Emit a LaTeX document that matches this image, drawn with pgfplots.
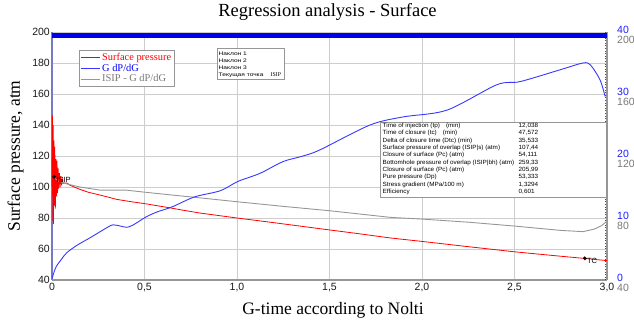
\documentclass[border=0pt]{standalone}
\usepackage{pgfplots}
\pgfplotsset{compat=1.18}
\usepackage{fontspec}
\setmainfont{Liberation Serif}
\setsansfont{Liberation Sans}
\newfontfamily\infofont[FakeStretch=1.05]{Liberation Sans}
\newfontfamily\boxfont[FakeStretch=1.27]{Liberation Sans}
\definecolor{gridc}{RGB}{205,205,205}
\definecolor{lblue}{RGB}{55,55,255}
\definecolor{lred}{RGB}{255,0,0}
\definecolor{bbar}{RGB}{0,0,235}
\definecolor{greyl}{RGB}{150,150,150}
\definecolor{ticktxt}{RGB}{25,25,25}
\definecolor{axblue}{RGB}{120,120,200}
\definecolor{rlab}{RGB}{30,30,255}
\definecolor{glab}{RGB}{120,120,120}
\newcommand{\tinyf}{\infofont\fontsize{6.05}{7}\selectfont}
\newcommand{\boxf}{\boxfont\fontsize{5.2}{6}\selectfont}
\begin{document}
\begin{tikzpicture}
\path[use as bounding box] (0pt,0pt) rectangle (634pt,322pt);
\begin{axis}[
  at={(52pt,42pt)}, anchor=south west,
  scale only axis, width=555pt, height=248pt,
  xmin=0, xmax=3, ymin=40, ymax=200,
  clip=false,
  xtick={0,0.5,1,1.5,2,2.5,3},
  xticklabels={0,{0,5},{1,0},{1,5},{2,0},{2,5},{3,0}},
  ytick={40,60,80,100,120,140,160,180,200},
  yticklabels={40,60,80,100,120,140,160,180,200},
  grid=major, grid style={gridc, line width=0.8pt},
  major tick length=0pt,
  axis line style={draw=none},
  ticklabel style={font=\sffamily\fontsize{10.5}{12}\selectfont, text=ticktxt},
  yticklabel style={inner sep=1pt, xshift=-1pt},
  title={Regression analysis - Surface},
  title style={at={(axis description cs:0.4964,1.0363)}, anchor=base, font=\fontsize{18.5}{20}\selectfont},
  xlabel={G-time according to Nolti},
  xlabel style={at={(axis description cs:0.5063,-0.1411)}, anchor=base, font=\fontsize{17.5}{19}\selectfont},
  ylabel={Surface pressure, atm},
  ylabel style={at={(axis description cs:-0.0577,0.5)}, anchor=base, font=\fontsize{17.5}{19}\selectfont},
  legend cell align=left,
  legend style={at={(axis description cs:0.0486,0.9274)}, anchor=north west, draw=greyl, fill=white,
    inner sep=1pt, font=\fontsize{10.4}{11}\selectfont, row sep=-2pt,
    /tikz/every even column/.append style={column sep=1pt}},
]
\draw[axblue, line width=1.5pt] (axis cs:0,40) -- (axis cs:0,200);
\draw[greyl, line width=2pt] (axis cs:0,40) -- (axis cs:3,40);
\draw[greyl, line width=2pt] (axis cs:3,40) -- (axis cs:3,200);
\draw[lblue, line width=0.6pt, dotted] (axis cs:2.993,40) -- (axis cs:2.993,200);
\addplot[bbar, line width=5pt, forget plot] coordinates {(0,197.6) (3,197.6)};
\addplot[lred, line width=0.8pt, forget plot] coordinates {
(0.000,100) (0.002,146) (0.004,78) (0.006,140) (0.008,76) (0.010,130) (0.012,88)
(0.015,126) (0.018,86) (0.021,118) (0.024,94) (0.027,117) (0.030,96) (0.033,112)
(0.036,99) (0.040,109) (0.044,100) (0.048,107) (0.052,101) (0.056,105) (0.06,102.5)
(0.08,102.6) (0.1,101) (0.15,98.5) (0.2,96.5) (0.26,94.8) (0.3,93.6) (0.35,92)
(0.44,90.3) (0.5,89.3) (0.55,88.3) (0.64,86.5) (0.7,85.2) (0.8,83.2) (0.9,81.6)
(1.0,80) (1.1,78.5) (1.25,76.2) (1.5,72.3) (1.65,70) (1.83,67.1) (2.0,64.9)
(2.25,61.5) (2.5,58.2) (2.7,55.9) (2.87,54) (3.0,52.5)};
\addplot[greyl, line width=0.9pt, forget plot] coordinates {
(0.012,106.6) (0.03,104) (0.08,102) (0.15,100) (0.26,98) (0.4,98) (0.49,96.8)
(0.65,94.8) (0.76,93.5) (1.0,90.5) (1.25,87.5) (1.5,84.7) (1.83,80.4) (2.0,79.3)
(2.25,77.3) (2.5,74.8) (2.75,72) (2.87,71.2) (2.93,72.8) (2.97,75) (3.0,78)};
\addlegendimage{legend image code/.code={\draw[lred, line width=1pt] (0pt,0pt) -- (19pt,0pt);}}
\addlegendentry{\textcolor{lred}{Surface pressure}}
\addlegendimage{legend image code/.code={\draw[lblue, line width=1pt] (0pt,0pt) -- (19pt,0pt);}}
\addlegendentry{\textcolor{blue}{G dP/dG}}
\addlegendimage{legend image code/.code={\draw[greyl, line width=1pt] (0pt,0pt) -- (19pt,0pt);}}
\addlegendentry{\textcolor{glab}{ISIP - G dP/dG}}
\addplot[only marks, mark=*, mark size=1.7pt, black, forget plot,
  point meta=explicit symbolic, nodes near coords,
  nodes near coords style={anchor=west, font=\sffamily\fontsize{7.5}{8}\selectfont, inner sep=0pt, xshift=2pt, yshift=-3pt}]
  coordinates {(0.012,106.6) [ISIP] (2.88,54) [TC]};
\end{axis}
\begin{axis}[
  at={(52pt,42pt)}, anchor=south west,
  scale only axis, width=555pt, height=248pt,
  xmin=0, xmax=3, ymin=0, ymax=40,
  axis y line*=right, axis x line=none,
  axis line style={draw=none},
  major tick length=0pt,
  ytick={0,10,20,30,40},
  yticklabels={
    {\textcolor{rlab}{0}\\\textcolor{glab}{40}},
    {\textcolor{rlab}{10}\\\textcolor{glab}{80}},
    {\textcolor{rlab}{20}\\\textcolor{glab}{120}},
    {\textcolor{rlab}{30}\\\textcolor{glab}{160}},
    {\textcolor{rlab}{40}\\\textcolor{glab}{200}}},
  yticklabel style={font=\sffamily\fontsize{10.5}{10}\selectfont, align=left, anchor=north west, inner sep=0pt, xshift=10pt, yshift=6pt},
]
\addplot[lblue, line width=0.9pt, smooth] coordinates {
(0.0,0.2) (0.02,2.0) (0.05,3.3) (0.08,4.4) (0.135,5.6) (0.205,6.8) (0.30,8.5) (0.33,8.9)
(0.37,8.7) (0.405,8.5) (0.44,8.9) (0.51,10.2) (0.57,11.0) (0.65,11.8) (0.77,13.4)
(0.91,14.4) (1.005,15.9) (1.124,17.2) (1.249,19.1) (1.357,20) (1.449,21) (1.719,25)
(1.897,26.3) (2.135,27.4) (2.405,31.5) (2.53,32) (2.746,33.9) (2.87,35) (2.91,34.7)
(2.962,32.3) (2.99,29.6)};
\end{axis}
\draw[greyl, fill=white, line width=0.6pt] (217pt,243pt) rectangle (284pt,274pt);
\node[anchor=base west, inner sep=0pt, font=\boxf] at (218.5pt,266.2pt) {Наклон 1};
\node[anchor=base west, inner sep=0pt, font=\boxf] at (218.5pt,259.5pt) {Наклон 2};
\node[anchor=base west, inner sep=0pt, font=\boxf] at (218.5pt,252.8pt) {Наклон 3};
\node[anchor=base west, inner sep=0pt, font=\boxf] at (218.5pt,245.2pt) {Текущая точка};
\node[anchor=base west, inner sep=0pt, font=\fontsize{5.8}{6.5}\selectfont] at (270.5pt,245.2pt) {ISIP};
\draw[greyl, fill=white, line width=0.6pt] (380pt,125pt) rectangle (606pt,200pt);
\foreach \t/\v [count=\i] in {
  {Time of injection (tp)\quad (min)}/{12,038},
  {Time of closure (tc)\quad (min)}/{47,572},
  {Delta of closure time (Dtc) (min)}/{35,533},
  {Surface pressure of overlap (ISIP|s) (atm)}/{107,44},
  {Closure of surface (Pc) (atm)}/{54,111},
  {Bottomhole pressure of overlap (ISIP|bh) (atm)}/{259,33},
  {Closure of surface (Pc) (atm)}/{205,99},
  {Pure pressure (Dp)}/{53,333},
  {Stress gradient (MPa/100 m)}/{1,3294},
  {Efficiency}/{0,601}}{
  \node[anchor=base west, inner sep=0pt, font=\tinyf] at (382.5pt,{322pt-127.5pt-(\i-1)*7.33pt}) {\t};
  \node[anchor=base west, inner sep=0pt, font=\tinyf] at (518.5pt,{322pt-127.5pt-(\i-1)*7.33pt}) {\v};
}
\end{tikzpicture}
\end{document}
